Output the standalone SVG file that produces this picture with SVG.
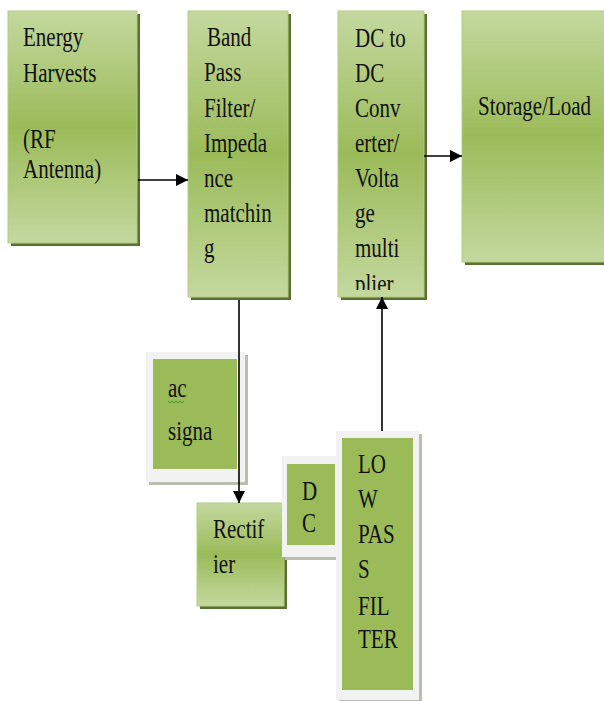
<svg xmlns="http://www.w3.org/2000/svg" width="604" height="701" viewBox="0 0 604 701">
<defs>
<linearGradient id="g" x1="0" y1="0" x2="0" y2="1">
<stop offset="0" stop-color="#c4d89e"/>
<stop offset="0.5" stop-color="#9bbb59"/>
<stop offset="1" stop-color="#c4d89e"/>
</linearGradient>
<marker id="ah" viewBox="0 0 12 12" refX="12" refY="6" markerWidth="12" markerHeight="12" markerUnits="userSpaceOnUse" orient="auto">
<path d="M0,0 L12,6 L0,12 z" fill="#000"/>
</marker>
<clipPath id="clip3"><rect x="338" y="11" width="86" height="279"/></clipPath>
</defs>
<style>
.sh{fill:#5a7030}
.gb{fill:url(#g);stroke:#b5cc85;stroke-width:1}
.fr{fill:#f2f2f2}
.frs{fill:#b9bfae}
.in{fill:#9bbb59}
.t{font-family:"Liberation Serif","Times New Roman",serif;font-size:21px;fill:#111}
.c{fill:none;stroke:#000;stroke-width:1.6}
</style>
<g id="energy">
<rect class="sh" x="11" y="14" width="129" height="232"/>
<rect class="gb" x="8" y="11" width="129" height="232"/>
<text class="t" transform="matrix(1,0,0,1.25,23,46)">Energy</text>
<text class="t" transform="matrix(1,0,0,1.25,23,82)">Harvests</text>
<text class="t" transform="matrix(1,0,0,1.25,23,148)">(RF</text>
<text class="t" transform="matrix(1,0,0,1.25,23,178)">Antenna)</text>
</g>
<g id="bandpass">
<rect class="sh" x="191" y="14" width="100" height="286"/>
<rect class="gb" x="188" y="11" width="100" height="286"/>
<text class="t" transform="matrix(1,0,0,1.25,207,46)">Band</text>
<text class="t" transform="matrix(1,0,0,1.25,204,81)">Pass</text>
<text class="t" transform="matrix(1,0,0,1.25,204,117)">Filter/</text>
<text class="t" transform="matrix(1,0,0,1.25,204,152)">Impeda</text>
<text class="t" transform="matrix(1,0,0,1.25,204,187)">nce</text>
<text class="t" transform="matrix(1,0,0,1.25,204,222)">matchin</text>
<text class="t" transform="matrix(1,0,0,1.25,204,257)">g</text>
</g>
<g id="dcdc">
<rect class="sh" x="341" y="14" width="86" height="286"/>
<rect class="gb" x="338" y="11" width="86" height="286"/>
<g clip-path="url(#clip3)">
<text class="t" transform="matrix(1,0,0,1.25,355,47)">DC to</text>
<text class="t" transform="matrix(1,0,0,1.25,355,82)">DC</text>
<text class="t" transform="matrix(1,0,0,1.25,355,117)">Conv</text>
<text class="t" transform="matrix(1,0,0,1.25,355,152)">erter/</text>
<text class="t" transform="matrix(1,0,0,1.25,355,187)">Volta</text>
<text class="t" transform="matrix(1,0,0,1.25,355,222)">ge</text>
<text class="t" transform="matrix(1,0,0,1.25,355,257)">multi</text>
<text class="t" transform="matrix(1,0,0,1.25,355,293)">plier</text>
</g>
</g>
<g id="storage">
<rect class="sh" x="465" y="14" width="145" height="251"/>
<rect class="gb" x="462" y="11" width="145" height="251"/>
<text class="t" transform="matrix(1,0,0,1.25,478,115)">Storage/Load</text>
</g>
<g id="acsignal">
<rect class="frs" x="149" y="355" width="99" height="130"/>
<rect class="fr" x="146" y="352" width="99" height="130"/>
<rect class="in" x="153" y="359" width="84" height="110"/>
<text class="t" transform="matrix(1,0,0,1.25,168,397)">ac</text>
<path d="M168,401 l2,2 l2,-2 l2,2 l2,-2 l2,2 l2,-2 l2,2 l2,-2" fill="none" stroke="#3a9a3a" stroke-width="1"/>
<text class="t" transform="matrix(1,0,0,1.25,168,440)">signa</text>
</g>
<g id="rectifier">
<rect class="sh" x="200" y="506" width="87" height="103"/>
<rect class="gb" x="197" y="503" width="87" height="103"/>
<text class="t" transform="matrix(1,0,0,1.25,213,538)">Rectif</text>
<text class="t" transform="matrix(1,0,0,1.25,213,573)">ier</text>
</g>
<g id="dc">
<rect class="frs" x="285" y="459" width="61" height="101"/>
<rect class="fr" x="282" y="456" width="61" height="101"/>
<rect class="in" x="287" y="464" width="48" height="81"/>
<text class="t" transform="matrix(1,0,0,1.25,302,500)">D</text>
<text class="t" transform="matrix(1,0,0,1.25,302,532)">C</text>
</g>
<g id="lowpass">
<rect class="frs" x="339" y="434" width="83" height="269"/>
<rect class="fr" x="336" y="431" width="83" height="269"/>
<rect class="in" x="342" y="438" width="71" height="252"/>
<text class="t" transform="matrix(1,0,0,1.25,358,473)">LO</text>
<text class="t" transform="matrix(1,0,0,1.25,358,508)">W</text>
<text class="t" transform="matrix(1,0,0,1.25,358,543)">PAS</text>
<text class="t" transform="matrix(1,0,0,1.25,358,578)">S</text>
<text class="t" transform="matrix(1,0,0,1.25,358,615)">FIL</text>
<text class="t" transform="matrix(1,0,0,1.25,358,648)">TER</text>
</g>
<g id="connectors">
<line class="c" x1="138" y1="180" x2="188" y2="180" marker-end="url(#ah)"/>
<line class="c" x1="424" y1="156" x2="462" y2="156" marker-end="url(#ah)"/>
<line class="c" x1="239" y1="300" x2="239" y2="503" marker-end="url(#ah)"/>
<line class="c" x1="382" y1="431" x2="382" y2="297" marker-end="url(#ah)"/>
</g>
</svg>
